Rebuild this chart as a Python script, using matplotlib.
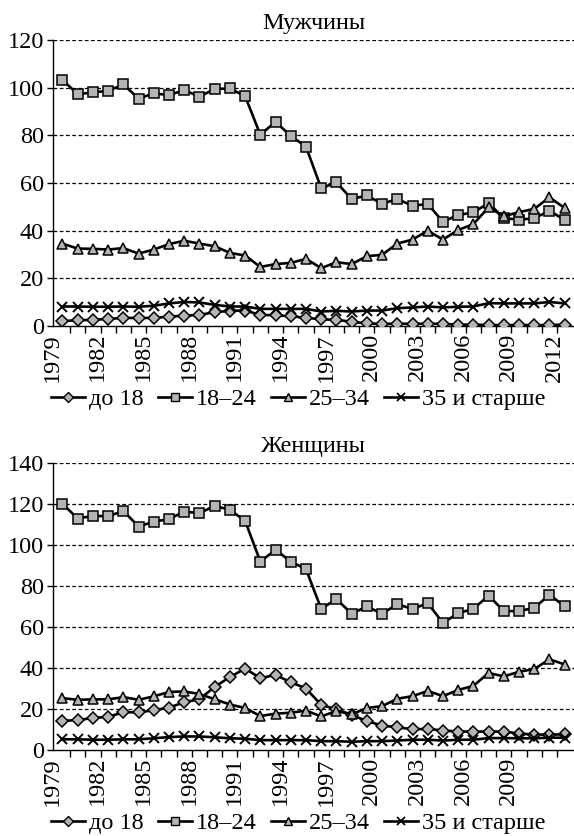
import matplotlib
matplotlib.use("Agg")
import matplotlib.pyplot as plt
from matplotlib.lines import Line2D

plt.rcParams['font.family'] = ['Liberation Serif', 'DejaVu Serif']

years = list(range(1979, 2013))

# Мужчины
m_u18 = [2.1, 2.4, 2.6, 3.0, 3.4, 3.4, 3.4, 4.0, 4.3, 4.7, 5.8, 6.4, 6.5, 4.7, 4.5, 4.1, 3.5,
         2.8, 2.6, 1.8, 1.1, 0.9, 1.0, 0.9, 1.0, 0.9, 0.6, 0.6, 0.4, 0.4, 0.4, 0.4, 0.4, 0.6]
m_18_24 = [103.3, 97.3, 98.1, 98.7, 101.4, 95.5, 97.6, 97.0, 99.0, 96.3, 99.5, 99.7, 96.5, 80.3,
           85.7, 79.8, 75.3, 57.8, 60.3, 53.3, 54.8, 51.3, 53.3, 50.5, 51.2, 43.8, 46.6, 47.7,
           51.6, 45.2, 44.7, 45.2, 48.4, 44.5]
m_25_34 = [34.6, 32.5, 32.4, 32.1, 32.7, 30.4, 32.1, 34.4, 35.8, 34.6, 33.5, 30.7, 29.6, 24.8,
           26.0, 26.5, 28.2, 24.3, 26.8, 26.0, 29.3, 29.9, 34.6, 36.3, 40.0, 36.3, 40.3, 42.8,
           49.8, 46.1, 47.8, 49.2, 54.0, 49.5]
m_35 = [8.2, 8.2, 8.1, 8.1, 8.2, 8.1, 8.5, 9.5, 10.1, 9.9, 8.9, 8.2, 8.2, 7.2, 7.2, 7.2, 7.2,
        6.1, 6.4, 6.1, 6.5, 6.5, 7.5, 7.8, 8.2, 7.8, 8.1, 8.2, 9.6, 9.5, 9.5, 9.5, 10.1, 9.5]

# Женщины
f_u18 = [14.2, 14.6, 15.6, 16.2, 18.4, 18.4, 19.4, 20.7, 23.3, 24.8, 30.8, 35.6, 39.7, 35.1,
         36.6, 33.1, 30.0, 22.0, 19.9, 17.1, 14.1, 11.9, 11.1, 10.1, 10.3, 9.5, 9.0, 9.0, 9.0,
         9.0, 8.0, 7.5, 7.5, 7.6]
f_18_24 = [120.2, 113.0, 114.3, 114.1, 116.7, 109.1, 111.5, 112.7, 116.4, 115.6, 119.2, 117.2,
           111.9, 92.0, 97.7, 92.0, 88.3, 68.9, 73.7, 66.5, 70.1, 66.5, 71.2, 68.8, 71.7, 62.0,
           66.8, 68.9, 75.4, 67.8, 67.8, 69.4, 75.8, 70.1]
f_25_34 = [25.3, 24.5, 24.7, 24.7, 25.8, 24.5, 26.2, 28.3, 28.6, 27.3, 24.8, 22.2, 20.5, 16.6,
           17.7, 18.2, 19.2, 16.4, 19.0, 17.4, 20.5, 21.4, 25.0, 26.3, 28.8, 26.3, 29.3, 31.3,
           37.6, 35.9, 38.2, 39.5, 44.3, 41.7]
f_35 = [5.2, 5.2, 5.0, 5.0, 5.2, 5.2, 5.7, 6.3, 6.6, 6.6, 6.2, 5.7, 5.5, 4.8, 4.8, 4.8, 4.8,
        4.3, 4.3, 4.0, 4.3, 4.3, 4.6, 5.0, 5.0, 4.6, 5.0, 5.0, 5.8, 5.8, 5.7, 5.7, 6.0, 6.0]

labels = ['до 18', '18–24', '25–34', '35 и старше']
markers = ['D', 's', '^', 'x']
msizes = [6, 7.5, 7.5, 7]

FS = 17.5
x = list(range(len(years)))


def draw(ax, series, ymax, title, last_label):
    for vals, mk, ms in zip(series, markers, msizes):
        ax.plot(x, vals, color='black', lw=1.9, marker=mk, markersize=ms,
                markerfacecolor='#b4b4b4', markeredgecolor='black',
                markeredgewidth=1.1 if mk != 'x' else 1.4, zorder=3)
    ax.set_xlim(-0.59, 33.58)
    ax.set_ylim(0, ymax)
    ax.set_yticks(range(0, ymax + 1, 20))
    for v in range(20, ymax + 1, 20):
        ax.axhline(v, color='black', lw=0.9, ls=(0, (3, 2)), zorder=1)
    ax.spines['top'].set_visible(False)
    ax.spines['right'].set_visible(False)
    ax.spines['left'].set_linewidth(1.0)
    ax.spines['bottom'].set_linewidth(1.0)
    pos = [i for i in range(0, last_label + 1, 3)]
    ax.set_xticks(pos)
    ax.set_xticklabels([str(years[i]) for i in pos], rotation=90, ha='right',
                       va='top', fontsize=FS)
    ax.tick_params(axis='x', which='major', length=0, pad=5)
    ax.set_xticks([i + 0.5 for i in range(33)], minor=True)
    ax.tick_params(axis='x', which='minor', length=5, width=1.0, direction='out')
    ax.tick_params(axis='y', length=4, width=1.0, labelsize=FS, pad=3)
    ax.set_title(title, fontsize=FS, pad=8)


fig = plt.figure(figsize=(5.74, 8.36), dpi=100)
ax1 = fig.add_axes([0.0932, 0.610, 0.906, 0.342])
ax2 = fig.add_axes([0.0932, 0.1029, 0.906, 0.343])

draw(ax1, [m_u18, m_18_24, m_25_34, m_35], 120, 'Мужчины', 33)
draw(ax2, [f_u18, f_18_24, f_25_34, f_35], 140, 'Женщины', 30)

handles = [Line2D([], [], color='black', lw=1.9, marker=mk, markersize=ms * 0.8,
                  markerfacecolor='#b4b4b4', markeredgecolor='black',
                  markeredgewidth=1.0 if mk != 'x' else 1.3)
           for mk, ms in zip(markers, msizes)]

for yc in [1 - 399 / 836, 1 - 823 / 836]:
    fig.legend(handles, labels, loc='center', bbox_to_anchor=(0.52, yc), ncol=4,
               frameon=False, fontsize=FS, handlelength=1.4, handletextpad=0.15,
               columnspacing=0.6, borderpad=0)

fig.savefig('out.png', dpi=100)
